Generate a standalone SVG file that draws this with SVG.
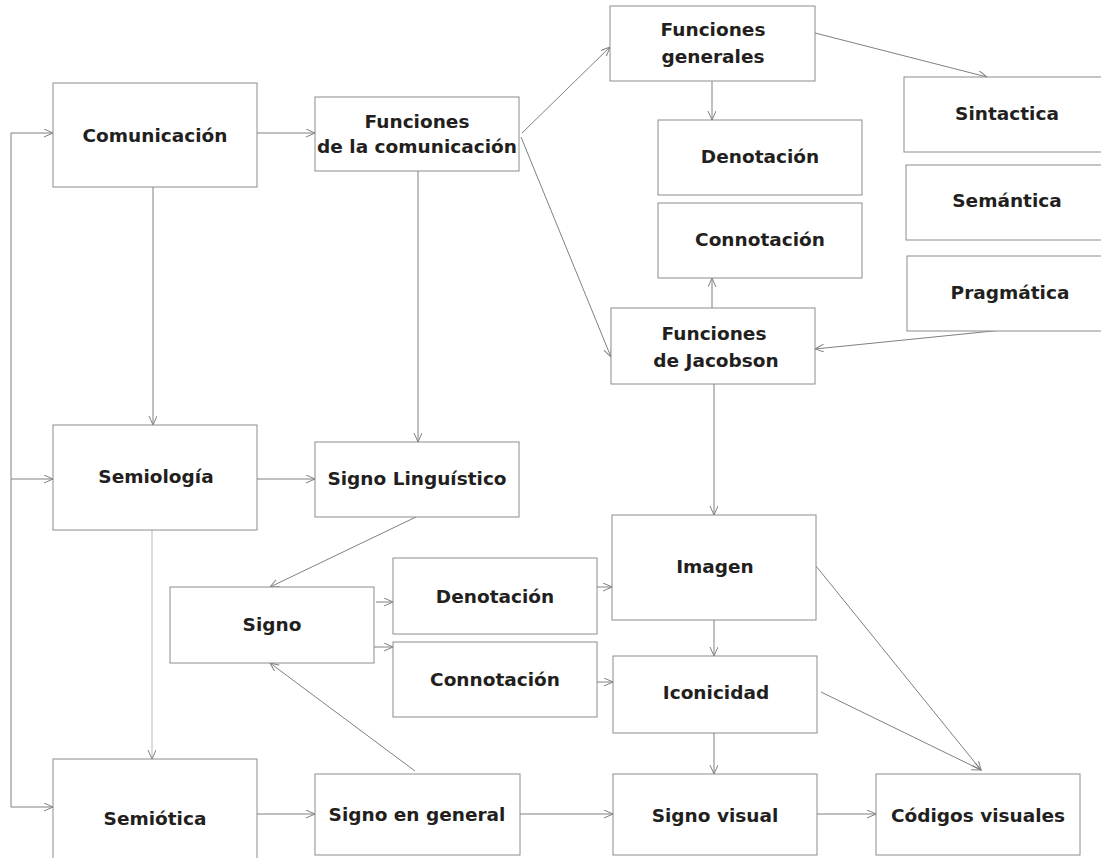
<svg xmlns="http://www.w3.org/2000/svg" width="1101" height="858" viewBox="0 0 1101 858">
<style>
.box{fill:#fff;stroke:#8c8c8c;stroke-width:1}
.t{font-family:"DejaVu Sans","Liberation Sans",sans-serif;font-weight:bold;font-size:18.5px;fill:#231f20;text-anchor:middle}
.c{fill:none;stroke:#808080;stroke-width:1}
.a{marker-end:url(#ah)}
.light{stroke:#b8b8b8}
</style>
<defs>
<marker id="ah" markerUnits="userSpaceOnUse" markerWidth="12" markerHeight="12" refX="9" refY="4" orient="auto">
<path d="M0,0 L9,4 L0,8" fill="none" stroke="#808080" stroke-width="1"/>
</marker>
</defs>
<rect width="1101" height="858" fill="#fff"/>
<g id="connectors">
<path class="c" d="M11,133 V807"/>
<path class="c a" d="M11,133 H53"/>
<path class="c a" d="M11,479 H53"/>
<path class="c a" d="M11,807 H53"/>
<path class="c a" d="M257,133 H315"/>
<path class="c a" d="M153,187 V425"/>
<path class="c a" d="M522,133 L610,47"/>
<path class="c a" d="M521,137 L611,357"/>
<path class="c a" d="M418,171 V442"/>
<path class="c a" d="M712,81 V120"/>
<path class="c a" d="M815,33 L987,77"/>
<path class="c a" d="M712,308 V278"/>
<path class="c a" d="M1003,330 L815,349"/>
<path class="c a" d="M714,384 V515"/>
<path class="c a" d="M257,479 H315"/>
<path class="c a light" d="M152,530 V759"/>
<path class="c a" d="M416,517 L270,587"/>
<path class="c a" d="M376,602 H393"/>
<path class="c a" d="M374,647 H393"/>
<path class="c a" d="M597,587 H612"/>
<path class="c a" d="M597,682 H613"/>
<path class="c a" d="M714,620 V656"/>
<path class="c a" d="M816,566 L981,770"/>
<path class="c a" d="M821,692 L981,770"/>
<path class="c a" d="M714,733 V774"/>
<path class="c a" d="M415,771 L270,663"/>
<path class="c a" d="M257,814 H315"/>
<path class="c a" d="M520,814 H613"/>
<path class="c a" d="M817,814 H876"/>
</g>
<g id="comunicacion"><rect class="box" x="53" y="83" width="204" height="104"/><text class="t" x="155" y="142">Comunicación</text></g>
<g id="funciones_comunicacion"><rect class="box" x="315" y="97" width="204" height="74"/><text class="t" x="417" y="128">Funciones</text><text class="t" x="417" y="153">de la comunicación</text></g>
<g id="funciones_generales"><rect class="box" x="610" y="6" width="205" height="75"/><text class="t" x="713" y="36">Funciones</text><text class="t" x="713" y="63">generales</text></g>
<g id="denotacion1"><rect class="box" x="658" y="120" width="204" height="75"/><text class="t" x="760" y="163">Denotación</text></g>
<g id="connotacion1"><rect class="box" x="658" y="203" width="204" height="75"/><text class="t" x="760" y="246">Connotación</text></g>
<g id="sintactica"><rect class="box" x="904" y="77" width="210" height="75"/><text class="t" x="1007" y="120">Sintactica</text></g>
<g id="semantica"><rect class="box" x="906" y="165" width="210" height="75"/><text class="t" x="1007" y="207">Semántica</text></g>
<g id="pragmatica"><rect class="box" x="907" y="256" width="210" height="75"/><text class="t" x="1010" y="299">Pragmática</text></g>
<g id="funciones_jacobson"><rect class="box" x="611" y="308" width="204" height="76"/><text class="t" x="714" y="340">Funciones</text><text class="t" x="716" y="367">de Jacobson</text></g>
<g id="semiologia"><rect class="box" x="53" y="425" width="204" height="105"/><text class="t" x="156" y="483">Semiología</text></g>
<g id="signo_linguistico"><rect class="box" x="315" y="442" width="204" height="75"/><text class="t" x="417" y="485">Signo Linguístico</text></g>
<g id="signo"><rect class="box" x="170" y="587" width="204" height="76"/><text class="t" x="272" y="631">Signo</text></g>
<g id="denotacion2"><rect class="box" x="393" y="558" width="204" height="76"/><text class="t" x="495" y="603">Denotación</text></g>
<g id="connotacion2"><rect class="box" x="393" y="642" width="204" height="75"/><text class="t" x="495" y="686">Connotación</text></g>
<g id="imagen"><rect class="box" x="612" y="515" width="204" height="105"/><text class="t" x="715" y="573">Imagen</text></g>
<g id="iconicidad"><rect class="box" x="613" y="656" width="204" height="77"/><text class="t" x="716" y="699">Iconicidad</text></g>
<g id="semiotica"><rect class="box" x="53" y="759" width="204" height="120"/><text class="t" x="155" y="825">Semiótica</text></g>
<g id="signo_general"><rect class="box" x="315" y="774" width="205" height="81"/><text class="t" x="417" y="821">Signo en general</text></g>
<g id="signo_visual"><rect class="box" x="613" y="774" width="204" height="81"/><text class="t" x="715" y="822">Signo visual</text></g>
<g id="codigos_visuales"><rect class="box" x="876" y="774" width="204" height="81"/><text class="t" x="978" y="822">Códigos visuales</text></g>
</svg>
